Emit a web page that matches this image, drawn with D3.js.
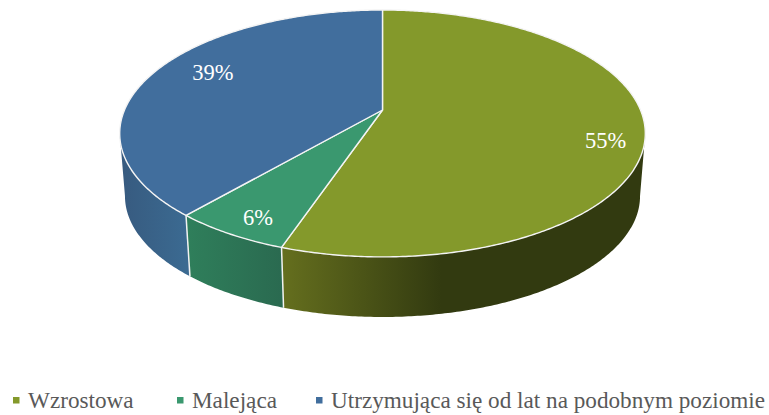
<!DOCTYPE html>
<html>
<head>
<meta charset="utf-8">
<script src="https://cdn.jsdelivr.net/npm/d3@7"></script>
<style>
  html, body { margin: 0; padding: 0; background: #fff; }
  svg { display: block; }
  text { font-family: "Liberation Serif", serif; }
</style>
</head>
<body>
<svg id="chart" width="769" height="415"></svg>
<script>
const categories = ['Wzrostowa', 'Malejąca', 'Utrzymująca się od lat na podobnym poziomie'];
const values = [55.2, 6.1, 38.7];
const topColors = ['#84992b', '#3a986f', '#416e9d'];
const sideStart = ['#656f1e', '#2f7f5b', '#3b6a91'];
const sideEnd = ['#323a10', '#2a6a50', '#375a7f'];

const width = 769, height = 415;
const cx = 382.5, cy = 110;
const radiusX = 258, radiusY = 119, tilt = 0.19;
const depth = 63, shrink = 0.98;

const svg = d3.select('#chart');
const defs = svg.append('defs');

// clockwise from 12 o'clock, d3.pie default
const pie = d3.pie().sort(null).value(d => d);
const arcs = pie(values);

const scaleX = d3.scaleLinear().domain([-1, 1]).range([cx - radiusX, cx + radiusX]);
const scaleY = d3.scaleLinear().domain([-1, 1]).range([cy + radiusY, cy - radiusY]);

// circle seen in perspective, far edge (angle 0) gets smaller
function project(angle, frac, lower) {
  const s = 1 / (1 + tilt * frac * Math.cos(angle));
  const x = scaleX(frac * Math.sin(angle) * s);
  const y = scaleY(frac * Math.cos(angle) * s);
  if (!lower) return [x, y];
  return [cx + (x - cx) * shrink, cy + (y - cy) * shrink + depth];
}

function angles(a0, a1) {
  const n = Math.max(2, Math.ceil((a1 - a0) / 0.01));
  return d3.range(n + 1).map(i => a0 + (a1 - a0) * i / n);
}

const line = d3.line();
const sideFrom = Math.PI - Math.acos(tilt);
const sideTo = Math.PI + Math.acos(tilt);

// sides first
arcs.forEach((d, i) => {
  const a0 = Math.max(d.startAngle, sideFrom);
  const a1 = Math.min(d.endAngle, sideTo);
  if (a1 <= a0) return;

  const upper = angles(a0, a1).map(a => project(a, 1, false));
  const lower = angles(a0, a1).reverse().map(a => project(a, 1, true));
  const xs = upper.map(p => p[0]);

  const grad = defs.append('linearGradient')
    .attr('id', 'side' + i)
    .attr('gradientUnits', 'userSpaceOnUse')
    .attr('x1', i === 2 ? d3.max(xs) : d3.min(xs)).attr('y1', 0)
    .attr('x2', i === 0 ? d3.min(xs) + 160 : (i === 2 ? d3.min(xs) : d3.max(xs))).attr('y2', 0);
  grad.append('stop').attr('offset', 0).attr('stop-color', sideStart[i]);
  grad.append('stop').attr('offset', 1).attr('stop-color', sideEnd[i]);

  svg.append('path')
    .attr('d', line(upper.concat(lower)) + 'Z')
    .attr('fill', 'url(#side' + i + ')');
});

// white seams on the side
arcs.forEach(d => {
  if (d.endAngle <= sideFrom || d.endAngle >= sideTo) return;
  svg.append('path')
    .attr('d', line([project(d.endAngle, 1, false), project(d.endAngle, 1, true)]))
    .attr('stroke', '#f2f2f2')
    .attr('stroke-width', 1.5)
    .attr('fill', 'none');
});

// top face
arcs.forEach((d, i) => {
  const rim = angles(d.startAngle, d.endAngle).map(a => project(a, 1, false));
  svg.append('path')
    .attr('d', line([project(0, 0, false)].concat(rim)) + 'Z')
    .attr('fill', topColors[i])
    .attr('stroke', '#f4f4f4')
    .attr('stroke-width', 1.4)
    .attr('stroke-linejoin', 'round');
});

// labels
const labelNudge = [[1, 13], [2, 5], [25, -5]];
arcs.forEach((d, i) => {
  const mid = (d.startAngle + d.endAngle) / 2;
  const p = project(mid, 0.85, false);
  svg.append('text')
    .attr('x', p[0] + labelNudge[i][0])
    .attr('y', p[1] + labelNudge[i][1])
    .attr('dy', '0.35em')
    .attr('text-anchor', 'middle')
    .attr('fill', '#fff')
    .attr('font-size', 22.5)
    .text(d3.format('.0f')(values[i]) + '%');
});

// legend
const legendX = d3.scaleOrdinal().domain(categories).range([13, 177, 316]);
const legend = svg.selectAll('g.legend').data(categories).join('g')
  .attr('class', 'legend')
  .attr('transform', d => `translate(${legendX(d)},400)`);
legend.append('rect')
  .attr('x', 0).attr('y', -3)
  .attr('width', 6.5).attr('height', 6.5)
  .attr('fill', (d, i) => topColors[i]);
legend.append('text')
  .attr('x', 15).attr('y', 8)
  .attr('font-size', 23.2)
  .attr('fill', '#595959')
  .text(d => d);
</script>
</body>
</html>
